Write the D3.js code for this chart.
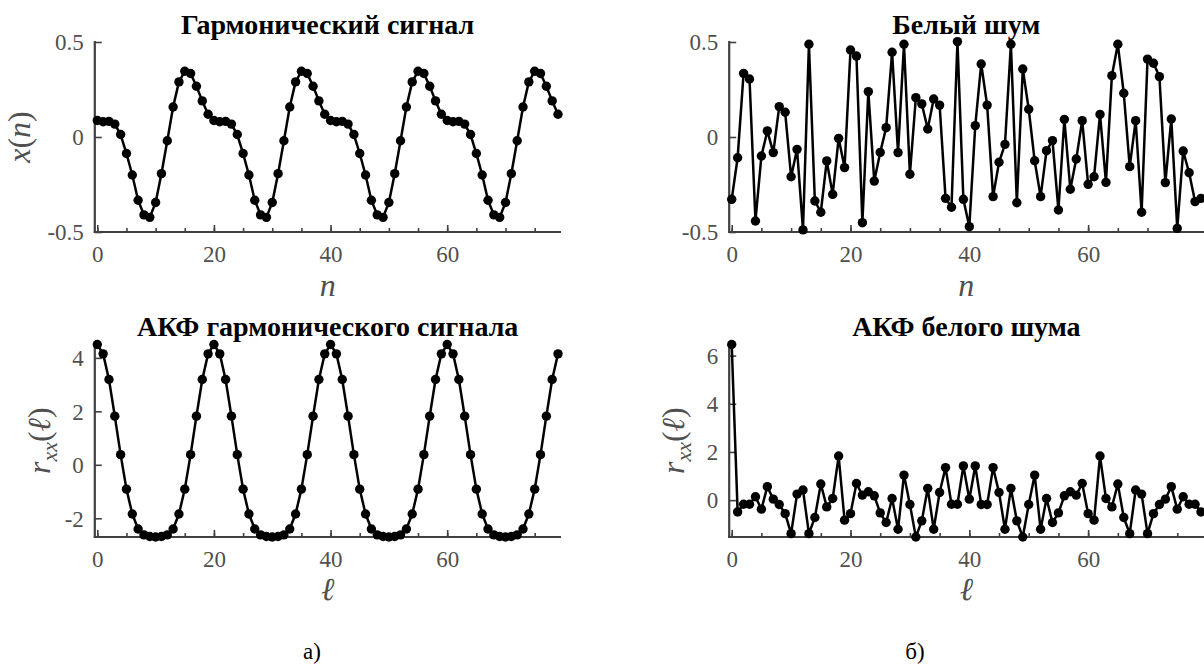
<!DOCTYPE html>
<html>
<head>
<meta charset="utf-8">
<script src="https://cdn.jsdelivr.net/npm/d3@7"></script>
<style>
body{margin:0;background:#fff;}
svg{display:block;}
svg text{font-family:"Liberation Serif","Times New Roman",Tinos,serif;}
</style>
</head>
<body>
<script>
// harmonic signal x(n), n = 0..79 (period 20)
var harmonic=[
0.087,0.080,0.082,0.068,0.013,-0.087,-0.200,-0.333,-0.410,-0.423,-0.345,-0.193,-0.020,0.158,0.290,0.346,0.334,0.267,0.190,0.120,
0.087,0.080,0.082,0.068,0.013,-0.087,-0.200,-0.333,-0.410,-0.423,-0.345,-0.193,-0.020,0.158,0.290,0.346,0.334,0.267,0.190,0.120,
0.087,0.080,0.082,0.068,0.013,-0.087,-0.200,-0.333,-0.410,-0.423,-0.345,-0.193,-0.020,0.158,0.290,0.346,0.334,0.267,0.190,0.120,
0.087,0.080,0.082,0.068,0.013,-0.087,-0.200,-0.333,-0.410,-0.423,-0.345,-0.193,-0.020,0.158,0.290,0.346,0.334,0.267,0.190,0.120];

// ACF of harmonic signal
var harmonicAcf=[
4.50,4.15,3.19,1.82,0.38,-0.91,-1.84,-2.40,-2.62,-2.68,-2.70,-2.68,-2.62,-2.40,-1.84,-0.91,0.38,1.82,3.19,4.15,
4.50,4.15,3.19,1.82,0.38,-0.91,-1.84,-2.40,-2.62,-2.68,-2.70,-2.68,-2.62,-2.40,-1.84,-0.91,0.38,1.82,3.19,4.15,
4.50,4.15,3.19,1.82,0.38,-0.91,-1.84,-2.40,-2.62,-2.68,-2.70,-2.68,-2.62,-2.40,-1.84,-0.91,0.38,1.82,3.19,4.15,
4.50,4.15,3.19,1.82,0.38,-0.91,-1.84,-2.40,-2.62,-2.68,-2.70,-2.68,-2.62,-2.40,-1.84,-0.91,0.38,1.82,3.19,4.15];

// white noise
var noise=[
-0.328,-0.109,0.335,0.305,-0.442,-0.100,0.032,-0.082,0.160,0.130,
-0.209,-0.065,-0.489,0.488,-0.337,-0.396,-0.126,-0.302,-0.007,-0.161,
0.458,0.426,-0.451,0.239,-0.232,-0.081,0.049,0.446,-0.082,0.488,
-0.196,0.207,0.174,0.042,0.200,0.168,-0.323,-0.370,0.502,-0.328,
-0.472,0.060,0.384,0.168,-0.314,-0.133,-0.039,0.488,-0.346,0.358,
0.146,-0.125,-0.314,-0.072,-0.019,-0.384,0.093,-0.275,-0.116,0.086,
-0.249,-0.209,0.119,-0.239,0.323,0.488,0.230,-0.156,0.086,-0.396,
0.410,0.388,0.318,-0.240,0.095,-0.481,-0.074,-0.188,-0.340,-0.323];

// ACF of white noise
var noiseAcf=[
6.46,-0.49,-0.17,-0.17,0.14,-0.375,0.56,0.04,-0.18,-0.56,
-1.39,0.25,0.42,-1.39,-0.72,0.67,-0.28,0.07,1.83,-0.83,
-0.56,0.69,0.21,0.35,0.18,-0.53,-0.93,0.07,-1.21,1.04,
-0.18,-1.53,-0.86,0.49,-1.21,0.32,1.35,-0.17,-0.17,1.42,
0.04,1.42,-0.18,-0.18,1.35,0.32,-1.21,0.49,-0.86,-1.53,
-0.18,1.04,-1.21,0.07,-0.93,-0.53,0.18,0.35,0.21,0.69,
-0.56,-0.83,1.83,0.07,-0.28,0.67,-0.72,-1.39,0.42,0.25,
-1.39,-0.56,-0.18,0.04,0.56,-0.375,0.14,-0.17,-0.17,-0.49];

var xTicks=[0,20,40,60];
var xMinorTicks=[0,5,10,15,20,25,30,35,40,45,50,55,60,65,70,75];
var signalTicks=[-0.5,0,0.5];
var harmonicAcfTicks=[-2,0,2,4];
var noiseAcfTicks=[0,2,4,6];

var width=1204,height=666;
var lineGrey='#404040';
var labelGrey='#505050';

var svg=d3.select('body').append('svg')
.attr('width',width)
.attr('height',height);

function panel(p){
    var x=d3.scaleLinear().domain([0,p.values.length-1]).range([p.left,p.right]);
    var y=d3.scaleLinear().domain(p.yDomain).range([p.bottom,p.top]);
    var g=svg.append('g');
    var axisX=p.left-2.5;

    // minor x ticks
    g.append('g')
    .attr('transform','translate(0,'+p.bottom+')')
    .call(d3.axisBottom(x).tickValues(xMinorTicks).tickSize(-4).tickFormat(''))
    .call(s=>s.select('.domain').remove())
    .selectAll('line').attr('stroke',lineGrey).attr('stroke-width',1.6);

    // major x ticks
    var gx=g.append('g')
    .attr('transform','translate(0,'+p.bottom+')')
    .call(d3.axisBottom(x).tickValues(xTicks).tickSize(-7).tickPadding(14).tickFormat(d=>String(d)));
    gx.attr('font-family',null).attr('font-size',23);
    gx.select('.domain').remove();
    gx.selectAll('line').attr('stroke',lineGrey).attr('stroke-width',1.6);
    gx.selectAll('text').attr('fill',labelGrey);

    // y ticks
    var gy=g.append('g')
    .attr('transform','translate('+axisX+',0)')
    .call(d3.axisLeft(y).tickValues(p.yTicks).tickSize(-7).tickPadding(11).tickFormat(d=>String(d)));
    gy.attr('font-family',null).attr('font-size',23);
    gy.select('.domain').remove();
    gy.selectAll('line').attr('stroke',lineGrey).attr('stroke-width',1.6);
    gy.selectAll('text').attr('fill',labelGrey).attr('dy','0.34em');

    // axis lines
    g.append('line')
    .attr('x1',axisX).attr('x2',axisX)
    .attr('y1',p.top-1).attr('y2',p.bottom+1)
    .attr('stroke',lineGrey).attr('stroke-width',2.2);
    g.append('line')
    .attr('x1',axisX-1).attr('x2',p.right+3)
    .attr('y1',p.bottom).attr('y2',p.bottom)
    .attr('stroke',lineGrey).attr('stroke-width',2.2);

    // data
    g.append('path')
    .datum(p.values)
    .attr('d',d3.line().x((d,i)=>x(i)).y(d=>y(d)))
    .attr('fill','none')
    .attr('stroke','#000')
    .attr('stroke-width',2.5)
    .attr('stroke-linejoin','round');

    g.selectAll('circle.pt')
    .data(p.values)
    .enter()
    .append('circle')
    .attr('class','pt')
    .attr('cx',(d,i)=>x(i))
    .attr('cy',d=>y(d))
    .attr('r',4.7)
    .attr('fill','#000');

    // title
    g.append('text')
    .attr('x',(p.left+p.right)/2)
    .attr('y',p.titleY)
    .attr('text-anchor','middle')
    .attr('font-weight','bold')
    .attr('font-size',28)
    .attr('fill','#000')
    .text(p.title);

    // x label
    g.append('text')
    .attr('x',(p.left+p.right)/2)
    .attr('y',p.xLabelY)
    .attr('text-anchor','middle')
    .attr('font-style','italic')
    .attr('font-size',32)
    .attr('fill',labelGrey)
    .text(p.xLabel);

    // y label
    if(p.yLabel){
        var t=g.append('text')
        .attr('transform','translate('+p.yLabelX+','+((p.top+p.bottom)/2)+') rotate(-90)')
        .attr('text-anchor','middle')
        .attr('font-size',32)
        .attr('fill',labelGrey);
        p.yLabel.forEach(function(part){
            var s=t.append('tspan').text(part.t);
            if(part.i) s.attr('font-style','italic');
            if(part.sub) s.attr('font-size',22);
            if(part.dy) s.attr('dy',part.dy);
        });
    }
}

panel({
    values:harmonic,left:97.3,right:558,top:42,bottom:232,
    yDomain:[-0.5,0.5],yTicks:signalTicks,
    title:'Гармонический сигнал',titleY:34,
    xLabel:'n',xLabelY:296,
    yLabel:[{t:'x',i:true},{t:'('},{t:'n',i:true},{t:')'}],yLabelX:30
});

panel({
    values:noise,left:731.7,right:1201,top:42,bottom:232,
    yDomain:[-0.5,0.5],yTicks:signalTicks,
    title:'Белый шум',titleY:34,
    xLabel:'n',xLabelY:296
});

panel({
    values:harmonicAcf,left:97.3,right:558,top:344.5,bottom:537,
    yDomain:d3.extent(harmonicAcf),yTicks:harmonicAcfTicks,
    title:'АКФ гармонического сигнала',titleY:336,
    xLabel:'ℓ',xLabelY:600,
    yLabel:[{t:'r',i:true},{t:'xx',i:true,sub:true,dy:'7'},{t:'(',dy:'-7'},{t:'ℓ',i:true},{t:')'}],yLabelX:50
});

panel({
    values:noiseAcf,left:731.7,right:1201,top:344.5,bottom:537,
    yDomain:d3.extent(noiseAcf),yTicks:noiseAcfTicks,
    title:'АКФ белого шума',titleY:336,
    xLabel:'ℓ',xLabelY:600,
    yLabel:[{t:'r',i:true},{t:'xx',i:true,sub:true,dy:'7'},{t:'(',dy:'-7'},{t:'ℓ',i:true},{t:')'}],yLabelX:684
});

// panel captions
svg.append('text')
.attr('x',312).attr('y',659)
.attr('text-anchor','middle')
.attr('font-size',23)
.text('а)');

svg.append('text')
.attr('x',915).attr('y',659)
.attr('text-anchor','middle')
.attr('font-size',23)
.text('б)');
</script>
</body>
</html>
